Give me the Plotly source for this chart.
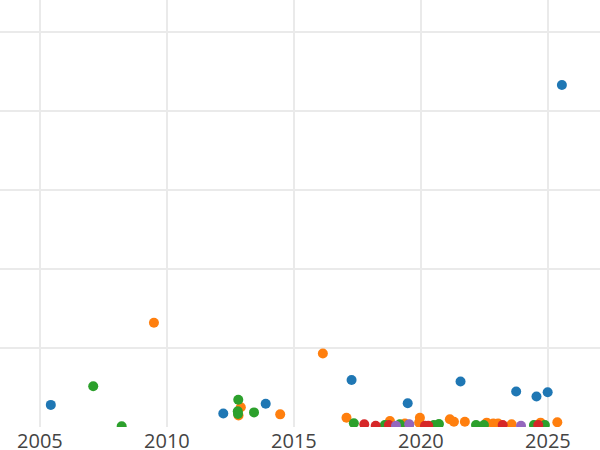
import plotly.graph_objects as go

blue_x = [2005.43, 2012.22, 2013.89, 2017.27, 2019.48, 2021.56, 2023.75, 2024.55, 2024.99, 2025.55]
blue_y = [5.6, 3.4, 5.9, 11.9, 6.0, 11.5, 9.0, 7.7, 8.8, 86.6]

orange_x = [2009.49, 2012.82, 2012.91, 2014.46, 2016.14, 2017.07, 2018.78, 2019.37, 2019.96, 2019.93,
            2021.14, 2021.30, 2021.73, 2022.59, 2022.85, 2023.04, 2023.57, 2024.71, 2025.37]
orange_y = [26.4, 2.9, 5.0, 3.2, 18.6, 2.35, 1.5, 0.9, 2.35, 1.1,
            1.95, 1.35, 1.35, 1.1, 0.9, 0.9, 0.7, 1.1, 1.2]

green_x = [2007.10, 2008.22, 2012.81, 2012.79, 2012.80, 2013.43, 2017.36, 2018.58, 2019.17, 2019.53,
           2020.51, 2020.71, 2022.17, 2022.48, 2024.45, 2024.88]
green_y = [10.3, 0.2, 6.9, 4.0, 3.3, 3.7, 0.95, 0.5, 0.7, 0.6,
           0.5, 0.75, 0.5, 0.5, 0.5, 0.5]

red_x = [2017.77, 2018.22, 2018.74, 2020.16, 2020.29, 2023.22, 2024.62]
red_y = [0.7, 0.3, 0.5, 0.3, 0.3, 0.5, 0.5]

purple_x = [2019.02, 2019.54, 2023.94]
purple_y = [0.3, 0.7, 0.3]

series = [
    ("Series A", blue_x, blue_y),
    ("Series B", orange_x, orange_y),
    ("Series C", green_x, green_y),
    ("Series D", red_x, red_y),
    ("Series E", purple_x, purple_y),
]

fig = go.Figure()
for name, xs, ys in series:
    fig.add_trace(go.Scatter(x=xs, y=ys, mode="markers", name=name,
                             marker=dict(size=10)))

fig.update_layout(
    template="none",
    width=600, height=450,
    margin=dict(l=0, r=0, t=0, b=23),
    showlegend=False,
    font=dict(size=20, color="#444"),
    plot_bgcolor="#fff", paper_bgcolor="#fff",
)
fig.update_xaxes(range=[2003.43, 2027.05], tickvals=[2005, 2010, 2015, 2020, 2025],
                 showgrid=True, gridcolor="#eaeaea", gridwidth=1.5,
                 zeroline=False, showline=False, ticks="")
fig.update_yaxes(range=[0, 108.1], dtick=20, showgrid=True, gridcolor="#eaeaea", gridwidth=1.5,
                 zeroline=False, showline=False, showticklabels=False, ticks="")

fig.write_html("out.html",
               config={"displayModeBar": False},
               post_script="document.body.style.margin='0';document.body.style.overflow='hidden';")
